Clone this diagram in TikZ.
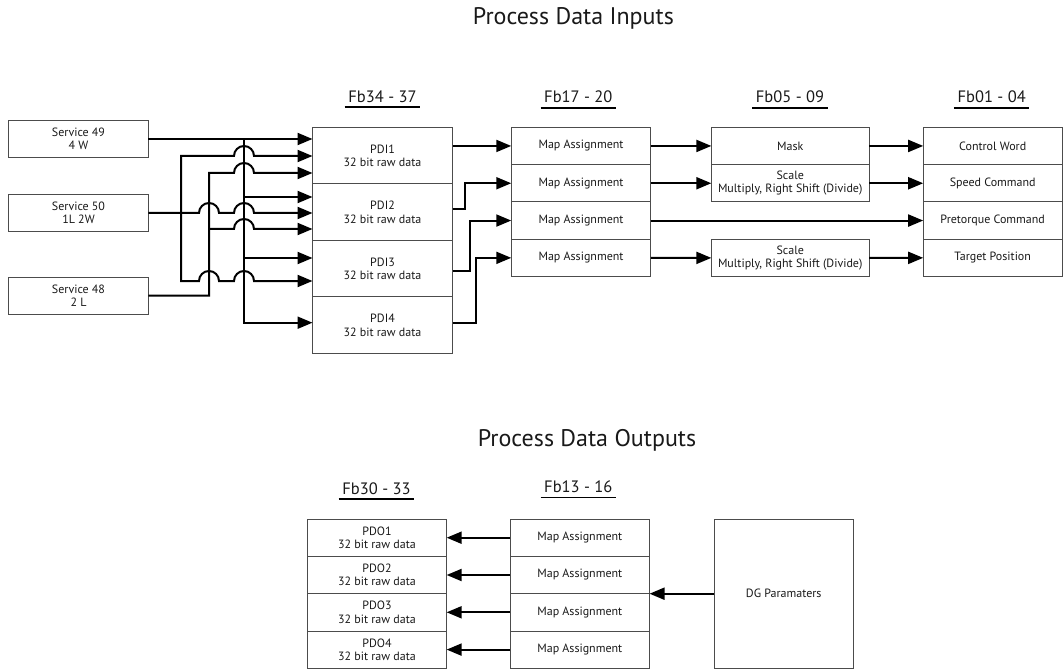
\documentclass[tikz,border=0pt]{standalone}
\usepackage{fontspec}
\setmainfont{PT Sans}
\usetikzlibrary{calc,arrows.meta,positioning}

\begin{document}
\begin{tikzpicture}[x=1pt,y=-1pt,>={Triangle[length=15pt,width=12pt]},
  every node/.style={font=\fontsize{12}{13.5}\selectfont,text=black!90},
  box/.style={draw=black!70,line width=0.9pt,outer sep=0pt,inner sep=0pt,align=center,
    minimum width=139.5pt,minimum height=37.3pt},
  pdibox/.style={box,minimum width=140pt,minimum height=56.5pt},
  head/.style={font=\fontsize{16.5}{18}\selectfont,anchor=base,inner xsep=3.5pt,inner ysep=0pt},
  title/.style={font=\fontsize{24}{28}\selectfont,anchor=base},
  wire/.style={->,line width=2pt}]
  \useasboundingbox (0,0) rectangle (1063,671);

  % Titles
  \node[title] (tin) at (573.4,25) {Process Data Inputs};
  \node[title] (tout) at (587,446) {Process Data Outputs};

  % Column headings
  \node[head] (hpdi) at (382.5,102.5) {Fb34 - 37};
  \node[head] (hmap) at (578.3,103) {Fb17 - 20};
  \node[head] (hproc) at (790,103) {Fb05 - 09};
  \node[head] (hcmd) at (991.7,103) {Fb01 - 04};
  \node[head] (hpdo) at (376.5,494.5) {Fb30 - 33};
  \node[head] (hmapo) at (578.3,492.7) {Fb13 - 16};
  \foreach \h in {hpdi,hmap,hproc,hcmd,hpdo,hmapo}
    \draw[line width=1.7pt] ([yshift=-4.7pt]\h.base west) -- ([yshift=-4.7pt]\h.base east);

  % --- Services ---
  \node[box,minimum height=37pt] (s49) at (78.5,139) {Service 49\\4 W};
  \node[box,minimum height=37pt] (s50) at (78.5,213) {Service 50\\1L 2W};
  \node[box,minimum height=37pt] (s48) at (78.5,295.5) {Service 48\\2 L};

  % --- PDI ---
  \node[pdibox] (pdi1) at (382.5,155.6) {PDI1\\32 bit raw data};
  \node[pdibox,below=0pt of pdi1] (pdi2) {PDI2\\32 bit raw data};
  \node[pdibox,below=0pt of pdi2] (pdi3) {PDI3\\32 bit raw data};
  \node[pdibox,below=0pt of pdi3] (pdi4) {PDI4\\32 bit raw data};

  % pins on the PDI inputs
  \coordinate (p1a) at (312.5,139);
  \coordinate (p1b) at (312.5,156);
  \coordinate (p1c) at (312.5,173);
  \coordinate (p2a) at (312.5,197);
  \coordinate (p2b) at (312.5,213);
  \coordinate (p2c) at (312.5,229);
  \coordinate (p3a) at (312.5,258);
  \coordinate (p3b) at (312.5,281);
  \coordinate (p4a) at (312.5,322.7);

  % bus junctions
  \coordinate (busA) at (244,139);
  \coordinate (busB) at (181,213);
  \coordinate (busC) at (209,229);

  % Service 49 -> 4 W
  \draw[wire] (s49.east) -- (p1a);
  \draw[wire] (busA) |- (p2a);
  \draw[wire] (busA) |- (p3a);
  \draw[wire] (busA) |- (p4a);

  % Service 50 -> 1L 2W
  \draw[wire] (s50.east) -- (199,213) arc (180:0:10pt) -- (234,213) arc (180:0:10pt) -- (p2b);
  \draw[wire] (busB) |- (234,156) arc (180:0:10pt) -- (p1b);
  \draw[wire] (busB) |- (199,281) arc (180:0:10pt) -- (234,281) arc (180:0:10pt) -- (p3b);

  % Service 48 -> 2 L
  \draw[wire] (s48.east) -| (209,173) -- (234,173) arc (180:0:10pt) -- (p1c);
  \draw[wire] (busC) -- (234,229) arc (180:0:10pt) -- (p2c);

  % --- Map assignment ---
  \node[box] (map1) at (581,145.95) {Map Assignment};
  \node[box,below=0pt of map1] (map2) {Map Assignment};
  \node[box,below=0pt of map2] (map3) {Map Assignment};
  \node[box,below=0pt of map3] (map4) {Map Assignment};

  \draw[wire] (pdi1.east |- map1.west) -- (map1.west);
  \draw[wire] ([yshift=3pt]pdi2.east) -- ++(12.5,0) |- (map2.west);
  \draw[wire] ([yshift=-2pt]pdi3.east) -- ++(17,0) |- (map3.west);
  \draw[wire] ([yshift=2.5pt]pdi4.east) -- ++(23,0) |- (map4.west);

  % --- Mask / scale ---
  \node[box,minimum width=157.7pt] (mask) at (790.2,145.95) {Mask};
  \node[box,minimum width=157.7pt,below=0pt of mask] (scale1) {Scale\\Multiply, Right Shift (Divide)};
  \node[box,minimum width=157.7pt] (scale2) at (790.2,257.9) {Scale\\Multiply, Right Shift (Divide)};

  % --- Commands ---
  \node[box,minimum width=139pt] (cw) at (992.7,145.95) {Control Word};
  \node[box,minimum width=139pt,below=0pt of cw] (speed) {Speed Command};
  \node[box,minimum width=139pt,below=0pt of speed] (pret) {Pretorque Command};
  \node[box,minimum width=139pt,below=0pt of pret] (target) {Target Position};

  \draw[wire] (map1.east) -- (mask.west);
  \draw[wire] (map2.east) -- (scale1.west);
  \draw[wire] (map3.east) -- (pret.west);
  \draw[wire] (map4.east) -- (scale2.west);
  \draw[wire] (mask.east) -- (cw.west);
  \draw[wire] (scale1.east) -- (speed.west);
  \draw[wire] (scale2.east) -- (target.west);

  % --- Outputs ---
  \node[box,minimum width=139.3pt] (pdo1) at (377,537.7) {PDO1\\32 bit raw data};
  \node[box,minimum width=139.3pt,below=0pt of pdo1] (pdo2) {PDO2\\32 bit raw data};
  \node[box,minimum width=139.3pt,below=0pt of pdo2] (pdo3) {PDO3\\32 bit raw data};
  \node[box,minimum width=139.3pt,below=0pt of pdo3] (pdo4) {PDO4\\32 bit raw data};

  \node[box] (mapo1) at (579.8,537.7) {Map Assignment};
  \node[box,below=0pt of mapo1] (mapo2) {Map Assignment};
  \node[box,below=0pt of mapo2] (mapo3) {Map Assignment};
  \node[box,below=0pt of mapo3] (mapo4) {Map Assignment};

  \node[box,minimum width=139.3pt,minimum height=149.3pt] (dg) at (783.7,593.7) {DG Paramaters};

  \foreach \i in {1,...,4}
    \draw[wire] (mapo\i.west) -- (pdo\i.east);
  \draw[wire] (dg.west) -- (dg.west -| mapo2.east);
\end{tikzpicture}
\end{document}
